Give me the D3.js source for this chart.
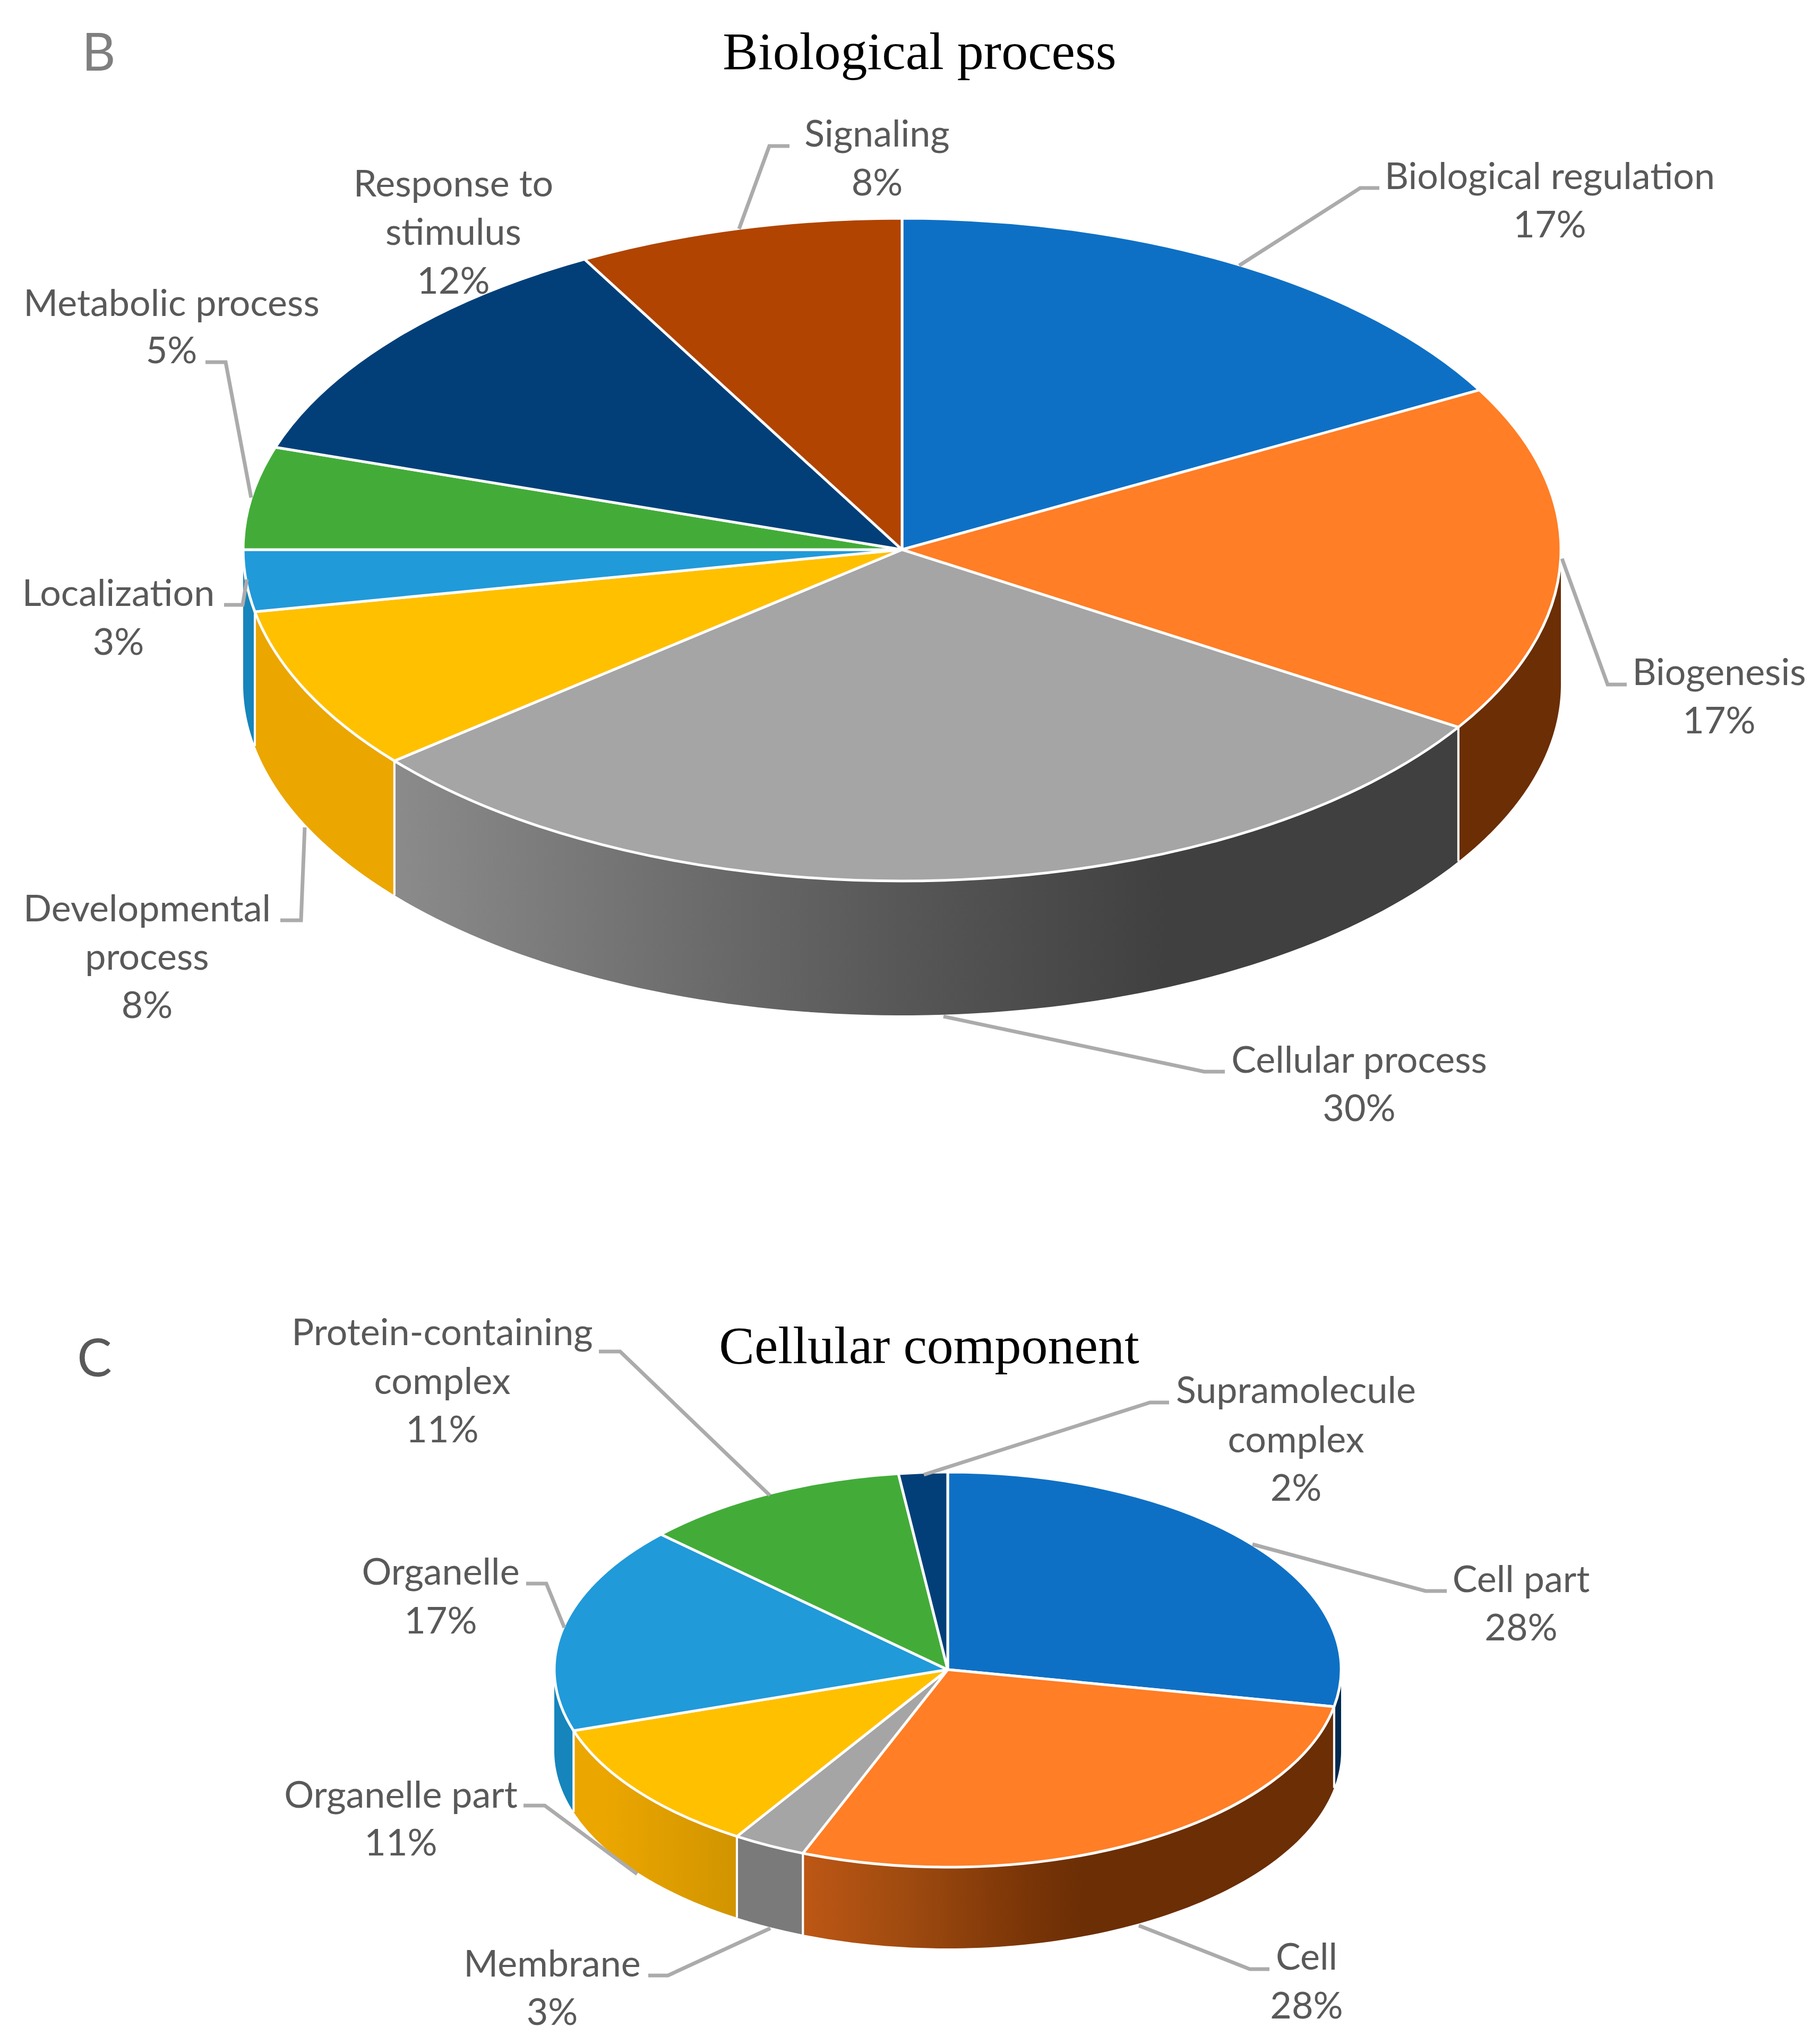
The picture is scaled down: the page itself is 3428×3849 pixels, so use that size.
<!DOCTYPE html>
<html><head><meta charset="utf-8">
<script src="https://cdn.jsdelivr.net/npm/d3@7/dist/d3.min.js"></script>
<style>html,body{margin:0;padding:0;background:#fff}svg{display:block}</style></head>
<body><svg id="c" width="3428" height="3849" viewBox="0 0 3428 3849"></svg>
<script>
// ---- data: Biological process
const bpCategories = ["Biological regulation","Biogenesis","Cellular process","Developmental process","Localization","Metabolic process","Response to stimulus","Signaling"];
const bpValues = [17,17,30,8,3,5,12,8];
// ---- data: Cellular component
const ccCategories = ["Cell part","Cell","Membrane","Organelle part","Organelle","Protein-containing complex","Supramolecule complex"];
const ccValues = [28,28,3,11,17,11,2];

// ---- style
const LABEL_FONT = "Lato", LABEL_SIZE = 70, LABEL_COLOR = "#595959", LEADER_COLOR = "#ABABAB";
const bpTop = ["#0E70C5","#FF7E26","#A5A5A5","#FFC000","#219AD9","#43AC39","#023F78","#B14401"];
const ccTop = ["#0E70C5","#FF7E26","#A5A5A5","#FFC000","#219AD9","#43AC39","#023F78"];
// side shading: [t, colour] with t = -1..1 across the pie's width
const bpSide = [
  [[-1,"#012A50"]],
  [[-1,"#6B2E05"]],
  [[-0.77,"#8B8B8B"],[0,"#575757"],[0.4,"#404040"],[1,"#404040"]],
  [[-1,"#EBA600"]],
  [[-1,"#1585BC"]],[[-1,"#2A7A24"]],[[-1,"#012A50"]],[[-1,"#6B2E05"]]
];
const ccSide = [
  [[-1,"#012A50"]],
  [[-0.366,"#BD5715"],[-0.115,"#A04B10"],[0.2,"#7A3507"],[0.35,"#6B2E05"],[1,"#6B2E05"]],
  [[-1,"#7A7A7A"]],
  [[-0.87,"#EBA600"],[-0.55,"#D29500"]],
  [[-1,"#1585BC"]],[[-1,"#2A7A24"]],[[-1,"#012A50"]]
];

// ---- layout (label text lines with centre x and baselines; leader polylines)
const bpLayout = {cx:1699, cy:1035, rx:1241, ry:624, depth:253};
const ccLayout = {cx:1785, cy:3144, rx:741, ry:372, depth:153};
const bpLabels = [
  {x:2919, y:[356,447], t:["Biological regulation","17%"], leader:[[2334,500],[2562,354],[2598,354]]},
  {x:3238, y:[1290,1381], t:["Biogenesis","17%"], leader:[[2942,1052],[3028,1289],[3064,1289]]},
  {x:2560, y:[2020,2111], t:["Cellular process","30%"], leader:[[1777,1914],[2268,2018],[2307,2018]]},
  {x:277, y:[1735,1826,1917], t:["Developmental","process","8%"], leader:[[574,1558],[567,1733],[528,1733]]},
  {x:223, y:[1141,1233], t:["Localization","3%"], leader:[[465,1091],[457,1139],[422,1139]]},
  {x:323, y:[595,684], t:["Metabolic process","5%"], leader:[[473,937],[425,682],[387,682]]},
  {x:854, y:[370,461,553], t:["Response to","stimulus","12%"], leader:null},
  {x:1652, y:[276,368], t:["Signaling","8%"], leader:[[1392,431],[1449,275],[1487,275]]}
];
const ccLabels = [
  {x:2865, y:[2998,3089], t:["Cell part","28%"], leader:[[2359,2908],[2685,2996],[2725,2996]]},
  {x:2461, y:[3709,3801], t:["Cell","28%"], leader:[[2145,3626],[2354,3708],[2391,3708]]},
  {x:1040, y:[3722,3813], t:["Membrane","3%"], leader:[[1451,3631],[1258,3720],[1221,3720]]},
  {x:755, y:[3404,3494], t:["Organelle part","11%"], leader:[[1200,3529],[1026,3400],[986,3400]]},
  {x:830, y:[2984,3076], t:["Organelle","17%"], leader:[[1063,3065],[1029,2982],[991,2982]]},
  {x:833, y:[2533,2625,2716], t:["Protein-containing","complex","11%"], leader:[[1450,2816],[1168,2545],[1128,2545]]},
  {x:2441, y:[2642,2735,2826], t:["Supramolecule","complex","2%"], leader:[[1740,2777],[2166,2641],[2202,2641]]}
];

const svg = d3.select("#c");
svg.append("rect").attr("width",3428).attr("height",3849).attr("fill","#fff");
const defs = svg.append("defs");

function drawPie(id, cats, values, tops, sides, L, labels){
  const g = svg.append("g").attr("id",id);
  const arcs = d3.pie().sort(null).value(d=>d)(values);
  const front = [Math.PI/2, 3*Math.PI/2];
  const gx = a => L.cx + L.rx*Math.sin(a);
  const gy = a => L.cy - L.ry*Math.cos(a);
  const area = d3.area().x(gx).y0(gy).y1(a=>gy(a)+L.depth);

  // side walls
  arcs.forEach((d,i)=>{
    const a0 = Math.max(d.startAngle, front[0]), a1 = Math.min(d.endAngle, front[1]);
    if(a1<=a0) return;
    const gid = `${id}-side-${i}`;
    const lg = defs.append("linearGradient").attr("id",gid).attr("gradientUnits","userSpaceOnUse")
      .attr("x1",L.cx-L.rx).attr("x2",L.cx+L.rx).attr("y1",0).attr("y2",0);
    sides[i].forEach(s=>lg.append("stop").attr("offset",(s[0]+1)/2).attr("stop-color",s[1]));
    const steps = d3.range(a0, a1, (a1-a0)/80).concat([a1]);
    g.append("path").attr("d",area(steps)).attr("fill",`url(#${gid})`);
    // vertical separators at the wall ends facing another visible wall
    [d.startAngle, d.endAngle].forEach(a=>{
      if(a>front[0]+0.001 && a<front[1]-0.001){
        g.append("line").attr("x1",gx(a)).attr("x2",gx(a)).attr("y1",gy(a)).attr("y2",gy(a)+L.depth)
          .attr("stroke","#fff").attr("stroke-width",4);
      }
    });
  });

  // top face
  const arc = d3.arc().innerRadius(0).outerRadius(L.rx);
  const top = g.append("g").attr("transform",`translate(${L.cx},${L.cy}) scale(1,${L.ry/L.rx})`);
  top.selectAll("path").data(arcs).join("path")
    .attr("d",arc).attr("fill",(d,i)=>tops[i])
    .attr("stroke","#fff").attr("stroke-width",5).attr("stroke-linejoin","round")
    .attr("vector-effect","non-scaling-stroke")
    .append("title").text((d,i)=>`${cats[i]}: ${values[i]}%`);

  // leaders
  const line = d3.line();
  g.selectAll("path.leader").data(labels.filter(l=>l.leader)).join("path")
    .attr("class","leader").attr("d",d=>line(d.leader)).attr("fill","none")
    .attr("stroke",LEADER_COLOR).attr("stroke-width",7);

  // labels
  labels.forEach(l=>{
    l.t.forEach((s,k)=>{
      g.append("text").attr("x",l.x).attr("y",l.y[k]).attr("text-anchor","middle")
        .attr("font-family",LABEL_FONT).attr("font-size",LABEL_SIZE).attr("fill",LABEL_COLOR).text(s);
    });
  });
}

drawPie("bp", bpCategories, bpValues, bpTop, bpSide, bpLayout, bpLabels);
drawPie("cc", ccCategories, ccValues, ccTop, ccSide, ccLayout, ccLabels);

// titles + panel letters
const titles = [
  {t:"Biological process", x:1732, y:130, color:"#000", font:"'Liberation Serif'", size:100},
  {t:"Cellular component", x:1750, y:2567, color:"#000", font:"'Liberation Serif'", size:100},
  {t:"B", x:186, y:133, color:"#7F7F7F", font:"Lato", size:98},
  {t:"C", x:178, y:2592, color:"#595959", font:"Lato", size:98}
];
svg.selectAll("text.title").data(titles).join("text").attr("class","title")
  .attr("x",d=>d.x).attr("y",d=>d.y).attr("text-anchor","middle")
  .attr("font-family",d=>d.font).attr("font-size",d=>d.size).attr("fill",d=>d.color).text(d=>d.t);
</script></body></html>
